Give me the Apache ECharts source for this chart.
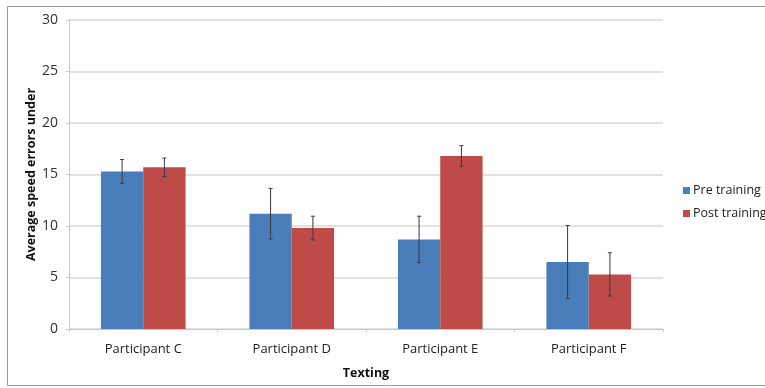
<!DOCTYPE html>
<html>
<head>
<meta charset="utf-8">
<script src="https://cdn.jsdelivr.net/npm/echarts@6/dist/echarts.min.js"></script>
<style>
  html, body { margin: 0; padding: 0; background: #fff; }
  #chart { width: 765px; height: 388px; }
</style>
</head>
<body>
<div id="chart"></div>
<script>
// Average speed errors while texting, before and after training
const categories = ['Participant C', 'Participant D', 'Participant E', 'Participant F'];
const preTraining = [15.3, 11.2, 8.7, 6.5];
const postTraining = [15.7, 9.8, 16.8, 5.3];
const preError = [1.15, 2.45, 2.25, 3.55];
const postError = [0.9, 1.15, 1.0, 2.1];
const yTicks = [0, 5, 10, 15, 20, 25, 30];

const FONT = '"Open Sans", "Liberation Sans", sans-serif';
const BLUE = '#4a7ebb';
const RED = '#be4b48';
const CATEGORY_GAP = 0.43;

// Whisker for each bar, shifted to the left (-1) or right (+1) bar of the pair
function errorBars(values, errors, side) {
  return {
    type: 'custom',
    silent: true,
    z: 5,
    data: values.map((v, i) => [i, v - errors[i], v + errors[i]]),
    renderItem(params, api) {
      const band = api.size([1, 0])[0];
      const barW = band * (1 - CATEGORY_GAP) / 2;
      const cx = api.coord([api.value(0), 0])[0] + side * barW / 2;
      const lo = api.coord([api.value(0), api.value(1)])[1];
      const hi = api.coord([api.value(0), api.value(2)])[1];
      const cap = 2;
      const style = { stroke: '#3a3a3a', lineWidth: 1 };
      return {
        type: 'group',
        children: [
          { type: 'line', shape: { x1: cx, y1: hi, x2: cx, y2: lo }, style },
          { type: 'line', shape: { x1: cx - cap, y1: hi, x2: cx + cap, y2: hi }, style },
          { type: 'line', shape: { x1: cx - cap, y1: lo, x2: cx + cap, y2: lo }, style }
        ]
      };
    }
  };
}

const chart = echarts.init(document.getElementById('chart'), null, { renderer: 'canvas' });

chart.setOption({
  animation: false,
  backgroundColor: '#fff',
  textStyle: { fontFamily: FONT },
  graphic: [
    {
      type: 'rect',
      shape: { x: 7.5, y: 6.5, width: 800, height: 379 },
      style: { fill: 'none', stroke: '#9a9a9a', lineWidth: 1 },
      silent: true
    }
  ],
  grid: { left: 69, right: 102, top: 20, bottom: 59 },
  legend: {
    orient: 'vertical',
    left: 678,
    top: 179,
    itemWidth: 7,
    itemHeight: 7,
    itemGap: 10,
    icon: 'rect',
    textStyle: { fontFamily: FONT, fontSize: 12.5, color: '#222', padding: [0, 0, 0, -2] },
    data: ['Pre training', 'Post training']
  },
  xAxis: {
    type: 'category',
    data: categories,
    name: 'Texting',
    nameLocation: 'middle',
    nameGap: 38,
    nameMoveOverlap: false,
    nameTextStyle: { fontFamily: FONT, fontSize: 12.5, fontWeight: 'bold', color: '#111' },
    axisLine: { lineStyle: { color: '#c8c8c8', width: 1 } },
    axisTick: { show: true, length: 3, lineStyle: { color: '#c8c8c8' } },
    axisLabel: { fontFamily: FONT, fontSize: 13, color: '#222', margin: 14 }
  },
  yAxis: {
    type: 'value',
    min: 0,
    max: 30,
    interval: 5,
    name: 'Average speed errors under',
    nameLocation: 'middle',
    nameGap: 31,
    nameMoveOverlap: false,
    nameRotate: 90,
    nameTextStyle: { fontFamily: FONT, fontSize: 12.5, fontWeight: 'bold', color: '#111' },
    axisLine: { show: true, lineStyle: { color: '#c8c8c8', width: 1 } },
    axisTick: { show: true, length: 3, lineStyle: { color: '#c8c8c8' } },
    axisLabel: {
      fontFamily: FONT, fontSize: 14, color: '#333', margin: 11,
      formatter: v => (yTicks.includes(v) ? String(v) : '')
    },
    splitLine: { lineStyle: { color: '#d9d9d9', width: 1.5 } }
  },
  series: [
    {
      name: 'Pre training',
      type: 'bar',
      data: preTraining,
      itemStyle: { color: BLUE },
      barGap: '0%',
      barCategoryGap: (CATEGORY_GAP * 100) + '%'
    },
    {
      name: 'Post training',
      type: 'bar',
      data: postTraining,
      itemStyle: { color: RED },
      barGap: '0%',
      barCategoryGap: (CATEGORY_GAP * 100) + '%'
    },
    errorBars(preTraining, preError, -1),
    errorBars(postTraining, postError, 1)
  ]
});
</script>
</body>
</html>
